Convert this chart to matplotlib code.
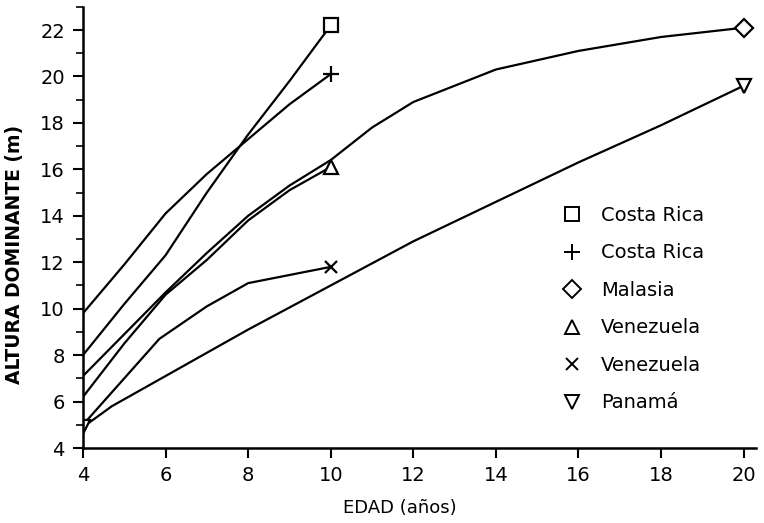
import matplotlib
matplotlib.use("Agg")
import matplotlib.pyplot as plt
from matplotlib.lines import Line2D
from matplotlib.ticker import MultipleLocator

# Altura dominante (m) por edad (años)
edad_cr1 = [4, 5, 6, 7, 8, 9, 10]
alt_cr1 = [8.0, 10.2, 12.3, 15.0, 17.5, 19.8, 22.2]

edad_cr2 = [4, 5, 6, 7, 8, 9, 10]
alt_cr2 = [9.8, 11.9, 14.1, 15.8, 17.3, 18.8, 20.1]

edad_mal = [4, 5, 6, 7, 8, 9, 10, 11, 12, 14, 16, 18, 20]
alt_mal = [7.1, 8.9, 10.7, 12.4, 14.0, 15.3, 16.4, 17.8, 18.9, 20.3, 21.1, 21.7, 22.1]

edad_ven1 = [4, 5, 6, 7, 8, 9, 10]
alt_ven1 = [6.2, 8.5, 10.6, 12.1, 13.8, 15.1, 16.1]

edad_ven2 = [4, 5, 5.85, 7, 8, 9, 10]
alt_ven2 = [5.0, 7.0, 8.7, 10.1, 11.1, 11.45, 11.8]

edad_pan = [4, 4.7, 6, 8, 10, 12, 14, 16, 18, 20]
alt_pan = [4.9, 5.8, 7.1, 9.1, 11.0, 12.9, 14.6, 16.3, 17.9, 19.6]

series = [
    (edad_cr1, alt_cr1, "s", "Costa Rica", [-1]),
    (edad_cr2, alt_cr2, "+", "Costa Rica", [-1]),
    (edad_mal, alt_mal, "D", "Malasia", [-1]),
    (edad_ven1, alt_ven1, "^", "Venezuela", [-1]),
    (edad_ven2, alt_ven2, "x", "Venezuela", [-1]),
    (edad_pan, alt_pan, "v", "Panamá", [0, -1]),
]

msize = {"s": 10, "+": 12, "D": 9, "^": 10, "x": 9, "v": 10}

fig = plt.figure(figsize=(7.64, 5.23), dpi=100)
ax = fig.add_axes([0.1086, 0.1434, 0.881, 0.8436])

handles = []
for x, y, m, lab, mev in series:
    ax.plot(x, y, color="black", lw=1.6, marker=m, markevery=mev,
            markersize=msize[m], markerfacecolor="white", markeredgecolor="black",
            markeredgewidth=1.6)
    handles.append(Line2D([], [], linestyle="none", marker=m, markersize=msize[m],
                          markerfacecolor="white", markeredgecolor="black",
                          markeredgewidth=1.4, label=lab))

ax.set_xlim(4, 20.3)
ax.set_ylim(4, 23.0)
ax.set_xticks(range(4, 21, 2))
ax.set_yticks(range(4, 23, 2))
ax.yaxis.set_minor_locator(MultipleLocator(1))

for s in ["top", "right"]:
    ax.spines[s].set_visible(False)
for s in ["left", "bottom"]:
    ax.spines[s].set_linewidth(1.8)

ax.tick_params(axis="both", which="major", direction="out", length=7, width=1.5,
               labelsize=14, pad=6)
ax.tick_params(axis="y", which="minor", direction="out", length=5, width=1.2)

ax.set_xlabel("EDAD (años)", fontsize=13)
ax.xaxis.set_label_coords(0.471, -0.115)
ax.set_ylabel("ALTURA DOMINANTE (m)", fontsize=13.5, fontweight="bold")
ax.yaxis.set_label_coords(-0.088, 0.4376)

ax.legend(handles=handles, loc="upper left", bbox_to_anchor=(0.72, 0.621),
          bbox_transform=fig.transFigure, frameon=False, fontsize=14,
          handlelength=1.5, labelspacing=0.95, handletextpad=0.7, borderaxespad=0)

fig.savefig("out.png", dpi=100)
